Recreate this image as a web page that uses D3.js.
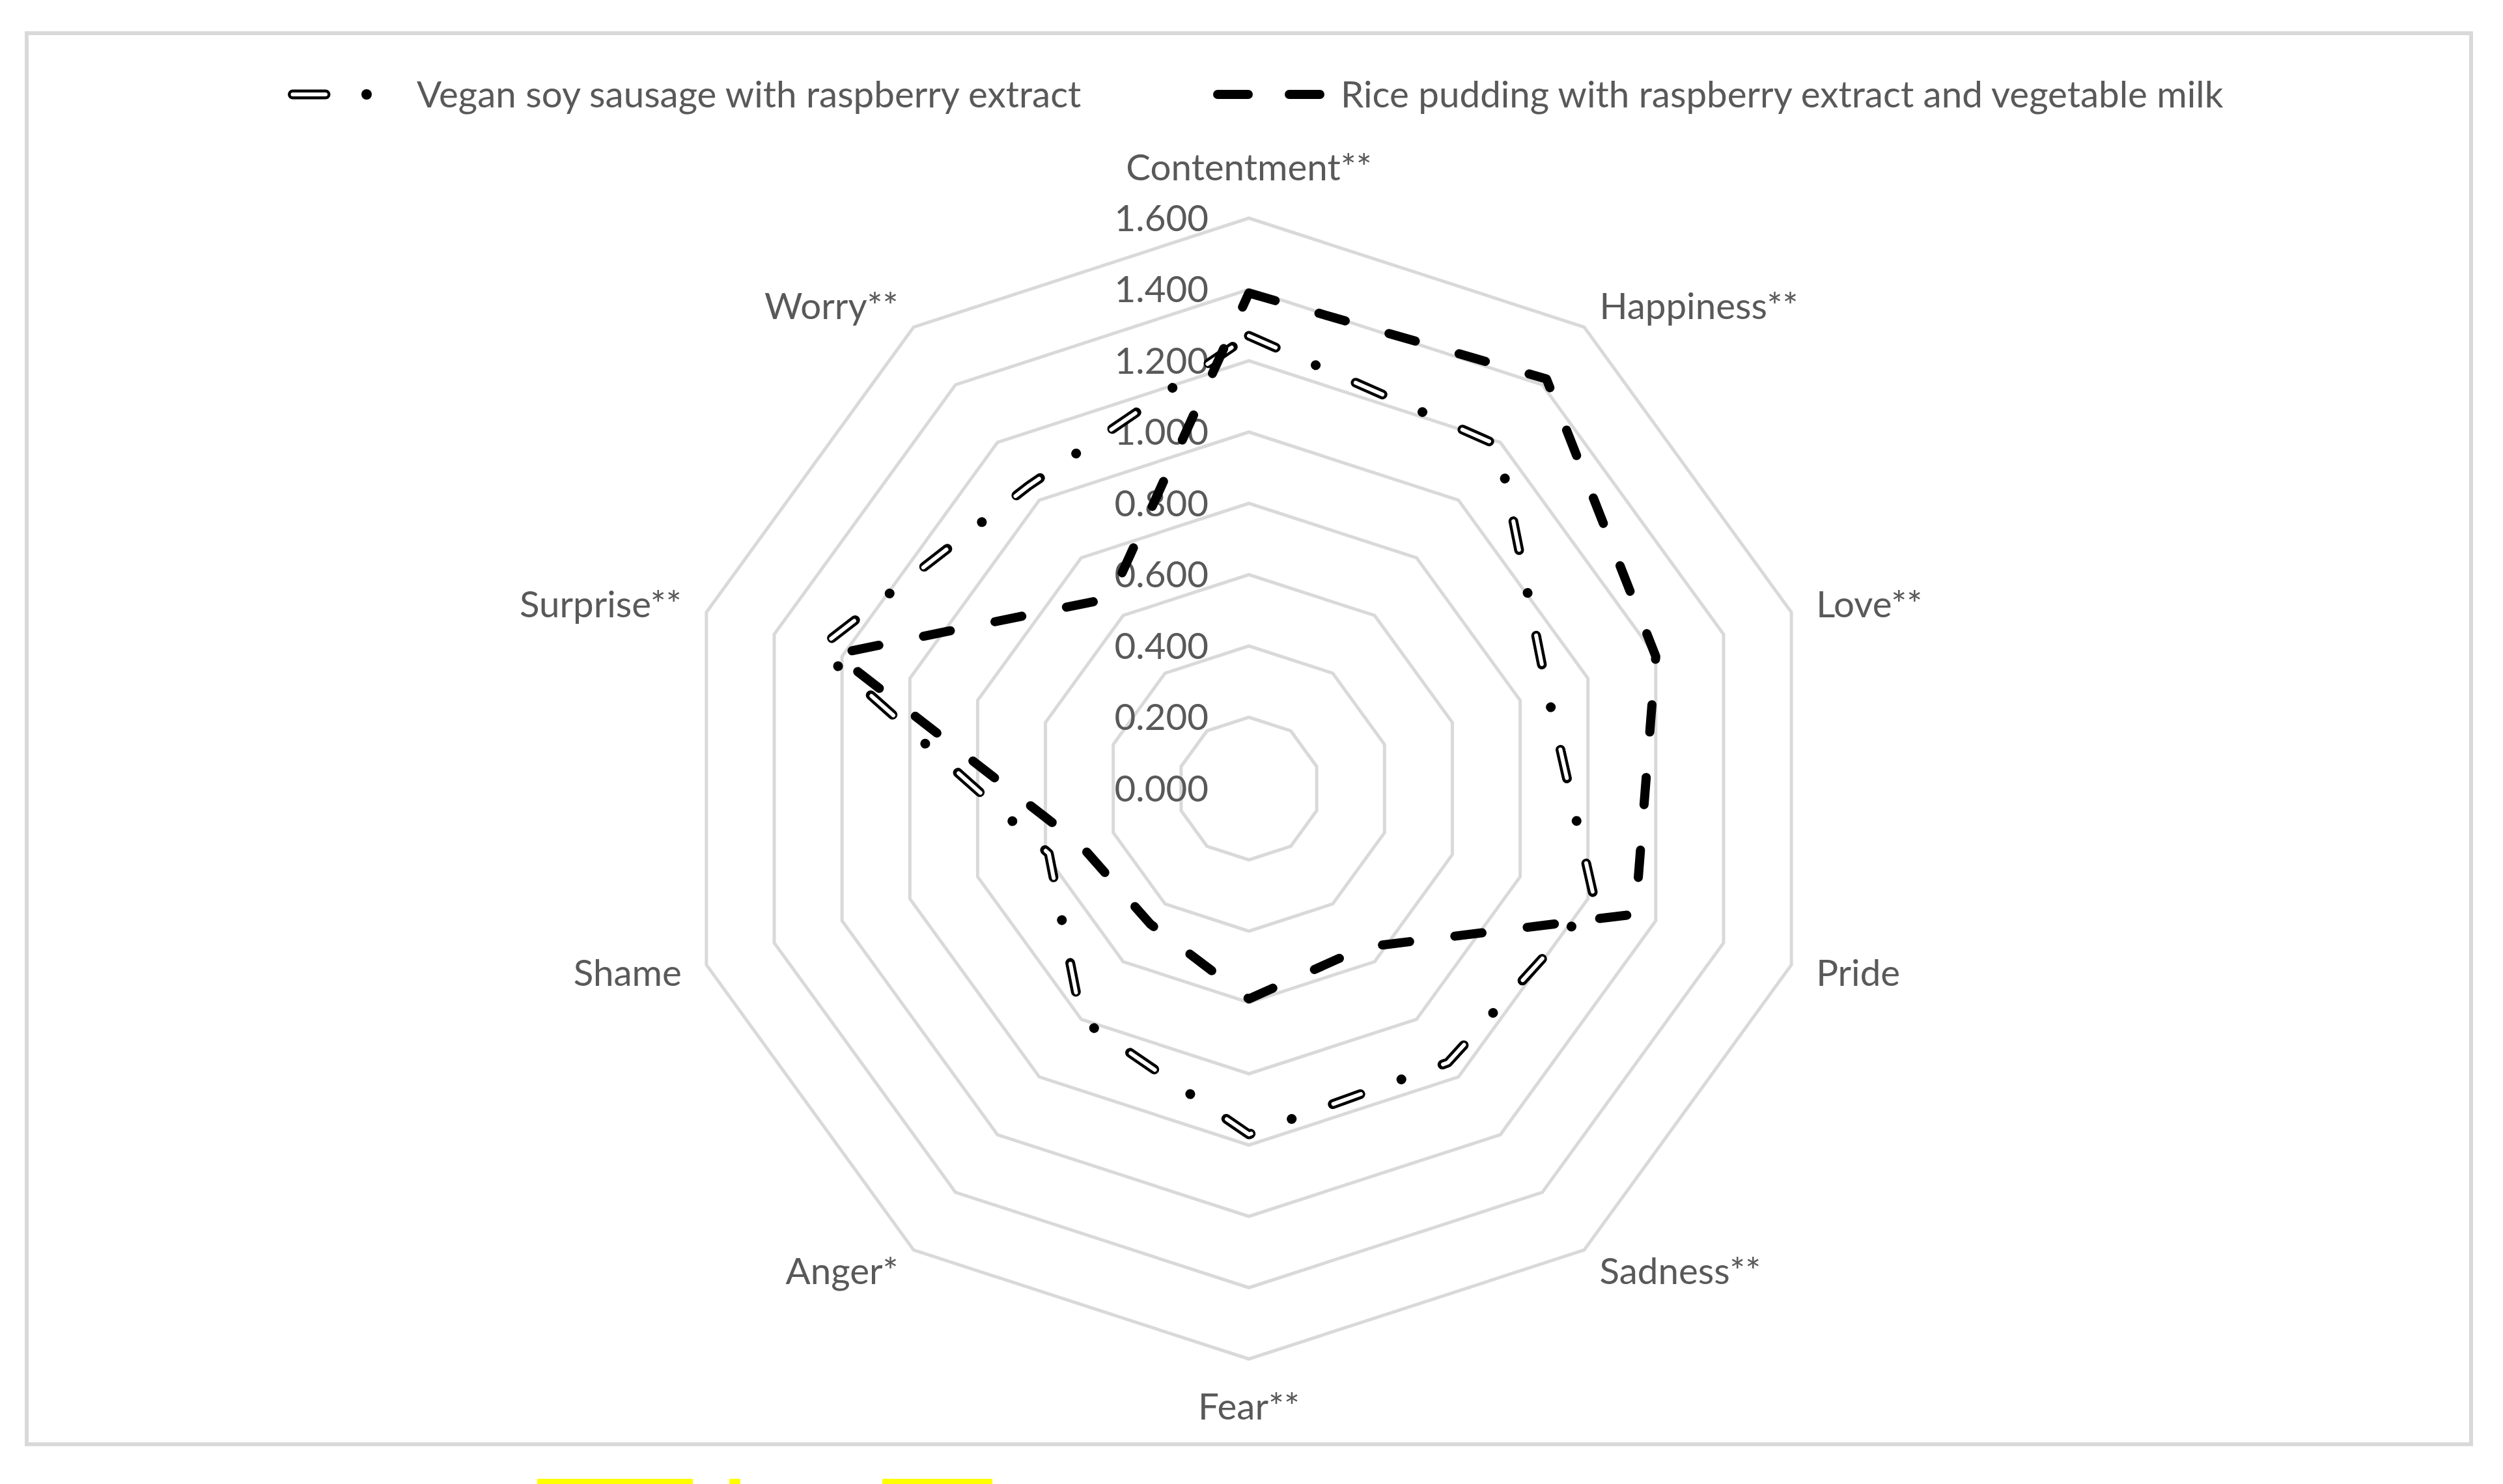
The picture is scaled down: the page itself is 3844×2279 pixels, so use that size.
<!DOCTYPE html>
<html>
<head>
<meta charset="utf-8">
<script src="https://cdn.jsdelivr.net/npm/d3@7"></script>
<style>
  body { margin: 0; background: #fff; }
  text { font-family: Lato, "Open Sans", sans-serif; fill: #595959; }
</style>
</head>
<body>
<div id="radar"></div>
<script>
// emotions around the radar, clockwise from the top
const emotions = [
  "Contentment**", "Happiness**", "Love**", "Pride", "Sadness**",
  "Fear**", "Anger*", "Shame", "Surprise**", "Worry**"
];
const veganSausage = [1.27, 1.19, 0.88, 1.02, 0.95, 0.97, 0.80, 0.59, 1.27, 1.05];
const ricePudding = [1.39, 1.42, 1.20, 1.14, 0.55, 0.59, 0.47, 0.50, 1.22, 0.66];
const seriesNames = [
  "Vegan soy sausage with raspberry extract",
  "Rice pudding with raspberry extract and vegetable milk"
];
const ringTicks = [0, 0.2, 0.4, 0.6, 0.8, 1.0, 1.2, 1.4, 1.6];

class RadarChart {
  constructor() {
    this.config = {
      parentElement: "#radar",
      width: 3844,
      height: 2279,
      cx: 1918,
      cy: 1211,
      radius: 876,
      fontSize: 56.5,
    };
    this.initVis();
  }

  initVis() {
    const vis = this;
    const c = vis.config;

    vis.svg = d3
      .select(c.parentElement)
      .append("svg")
      .attr("width", c.width)
      .attr("height", c.height);

    vis.svg.append("rect")
      .attr("width", c.width).attr("height", c.height).attr("fill", "#fff");

    // chart frame
    vis.svg.append("rect")
      .attr("x", 41).attr("y", 51)
      .attr("width", 3754).attr("height", 2167)
      .attr("fill", "none")
      .attr("stroke", "#d9d9d9")
      .attr("stroke-width", 6);

    // yellow highlight bits under the frame
    [[825, 239], [1120, 17], [1355, 169]].forEach(([x, w]) => {
      vis.svg.append("rect")
        .attr("x", x).attr("y", 2271).attr("width", w).attr("height", 9)
        .attr("fill", "#ffff00");
    });

    vis.chart = vis.svg.append("g")
      .attr("transform", `translate(${c.cx},${c.cy})`);

    vis.r = d3.scaleLinear().domain([0, 1.6]).range([0, c.radius]);
    vis.angle = d3.scaleLinear()
      .domain([0, emotions.length])
      .range([0, 2 * Math.PI]);

    vis.radial = d3.lineRadial()
      .angle((d, i) => vis.angle(i))
      .radius((d) => vis.r(d))
      .curve(d3.curveLinearClosed);

    vis.updateVis();
  }

  updateVis() {
    const vis = this;
    const c = vis.config;

    // grid rings
    vis.chart.selectAll(".ring")
      .data(ringTicks.filter((t) => t > 0))
      .join("path")
      .attr("class", "ring")
      .attr("d", (t) => vis.radial(emotions.map(() => t)))
      .attr("fill", "none")
      .attr("stroke", "#d9d9d9")
      .attr("stroke-width", 5);

    // value labels up the top axis
    vis.chart.selectAll(".tick-label")
      .data(ringTicks)
      .join("text")
      .attr("class", "tick-label")
      .attr("x", -62)
      .attr("y", (t) => -vis.r(t))
      .attr("dy", "0.35em")
      .attr("text-anchor", "end")
      .style("font-size", c.fontSize + "px")
      .text(d3.format(".3f"));

    // category labels
    vis.chart.selectAll(".cat-label")
      .data(emotions)
      .join("text")
      .attr("class", "cat-label")
      .each(function (d, i) {
        const a = vis.angle(i);
        const rr = c.radius + 40;
        const sx = Math.sin(a), cy = Math.cos(a);
        let y = -rr * cy;
        if (cy > 0.99) y -= 38;
        if (cy < -0.99) y += 33;
        d3.select(this)
          .attr("x", rr * sx)
          .attr("y", y)
          .attr("dy", "0.35em")
          .attr("text-anchor", sx > 0.01 ? "start" : sx < -0.01 ? "end" : "middle");
      })
      .style("font-size", c.fontSize + "px")
      .text((d) => d);

    // vegan series: hollow dash + dot
    vis.chart.append("path")
      .attr("d", vis.radial(veganSausage))
      .attr("fill", "none")
      .attr("stroke", "#000")
      .attr("stroke-width", 15)
      .attr("stroke-linecap", "round")
      .attr("stroke-linejoin", "round")
      .attr("stroke-dasharray", "45 67 0.1 67");
    vis.chart.append("path")
      .attr("d", vis.radial(veganSausage))
      .attr("fill", "none")
      .attr("stroke", "#fff")
      .attr("stroke-width", 6)
      .attr("stroke-linecap", "round")
      .attr("stroke-linejoin", "round")
      .attr("stroke-dasharray", "45 134");

    // rice pudding series: long dash
    vis.chart.append("path")
      .attr("d", vis.radial(ricePudding))
      .attr("fill", "none")
      .attr("stroke", "#000")
      .attr("stroke-width", 14)
      .attr("stroke-linecap", "round")
      .attr("stroke-linejoin", "round")
      .attr("stroke-dasharray", "42 70");

    // legend
    const ly = 145;
    const legend = vis.svg.append("g").attr("class", "legend");
    legend.append("path")
      .attr("d", `M449.5,${ly}H500`)
      .attr("stroke", "#000").attr("stroke-width", 15)
      .attr("stroke-linecap", "round");
    legend.append("path")
      .attr("d", `M449.5,${ly}H500`)
      .attr("stroke", "#fff").attr("stroke-width", 6)
      .attr("stroke-linecap", "round");
    legend.append("circle")
      .attr("cx", 563).attr("cy", ly).attr("r", 8)
      .attr("fill", "#000");
    legend.append("text")
      .attr("x", 640).attr("y", ly).attr("dy", "0.35em")
      .style("font-size", c.fontSize + "px")
      .text(seriesNames[0]);

    legend.append("path")
      .attr("d", `M1870,${ly}H2028`)
      .attr("stroke", "#000").attr("stroke-width", 14)
      .attr("stroke-linecap", "round")
      .attr("stroke-dasharray", "47 63");
    legend.append("text")
      .attr("x", 2059).attr("y", ly).attr("dy", "0.35em")
      .style("font-size", c.fontSize + "px")
      .text(seriesNames[1]);
  }
}

new RadarChart();
</script>
</body>
</html>
